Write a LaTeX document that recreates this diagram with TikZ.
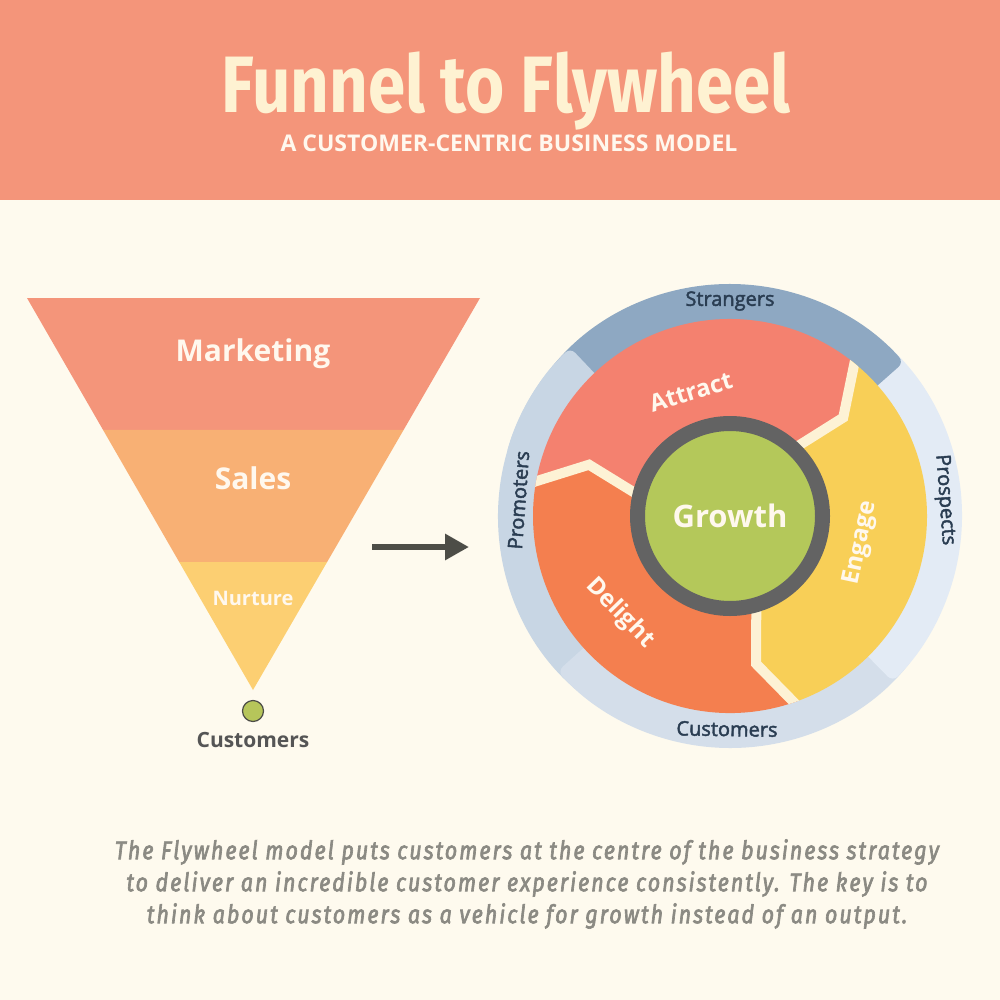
\documentclass[tikz,border=0pt]{standalone}
\usepackage{fontspec}
\setmainfont{Open Sans}
\newfontfamily\titlefont{Fira Sans}[FakeStretch=0.84]
\newfontfamily\ringfont{Open Sans}[FakeBold=2.2]
\newfontfamily\notefont{Fira Sans}[FakeStretch=0.84, LetterSpace=8, FakeBold=2.5]
\usetikzlibrary{positioning}
\usetikzlibrary{calc}
\usetikzlibrary{arrows.meta}

\definecolor{bgcream}{HTML}{FEFAEE}
\definecolor{headsalmon}{HTML}{F4957A}
\definecolor{titlecream}{HTML}{FEF2D2}
\definecolor{labelwhite}{HTML}{FFF8EE}
\definecolor{mktcol}{HTML}{F4957A}
\definecolor{salcol}{HTML}{F8B074}
\definecolor{nurcol}{HTML}{FCCF72}
\definecolor{dotgreen}{HTML}{B6C55A}
\definecolor{darkgray}{HTML}{4D4D47}
\definecolor{custgray}{HTML}{555555}
\definecolor{strblue}{HTML}{8EA8C2}
\definecolor{promblue}{HTML}{C8D6E4}
\definecolor{custblue}{HTML}{D4DEEA}
\definecolor{prosblue}{HTML}{E3EBF5}
\definecolor{ringtext}{HTML}{2A3D52}
\definecolor{attcol}{HTML}{F4816F}
\definecolor{engcol}{HTML}{F8CF57}
\definecolor{delcol}{HTML}{F47F4F}
\definecolor{sepcream}{HTML}{FDF2D5}
\definecolor{ringgray}{HTML}{636363}
\definecolor{growthgreen}{HTML}{B4C85A}
\definecolor{notegray}{HTML}{8B8A83}

\begin{document}
\begin{tikzpicture}[x=1pt, y=1pt,
    funlabel/.style = {anchor=base, text=labelwhite, font=\bfseries\fontsize{30}{34}\selectfont},
    seglabel/.style = {text=labelwhite, font=\bfseries\fontsize{24}{28}\selectfont},
    ringlabel/.style = {text=ringtext, font=\ringfont\fontsize{20}{23}\selectfont},
    sepline/.style = {draw=sepcream, line width=10pt},
    bigarrow/.style = {draw=darkgray, line width=6pt, -{Triangle[length=24pt, width=25pt]}}]

    % page and header
    \fill[bgcream] (0,0) rectangle (1000,-1000);
    \useasboundingbox (0,0) rectangle (1000,-1000);
    \fill[headsalmon] (0,0) rectangle (1000,-200);
    \node[anchor=base, text=titlecream, font=\titlefont\bfseries\fontsize{80}{86}\selectfont] (title) at (506,-113) {Funnel to Flywheel};
    \node[anchor=base, text=labelwhite, font=\bfseries\fontsize{23}{26}\selectfont] (subtitle) at (509,-152) {A CUSTOMER-CENTRIC BUSINESS MODEL};

    % funnel
    \coordinate (ftl) at (27,-298);
    \coordinate (ftr) at (480,-298);
    \coordinate (fap) at (253,-690);
    \fill[mktcol] (ftl) -- (ftr) -- ($(ftr)!0.3367!(fap)$) -- ($(ftl)!0.3367!(fap)$) -- cycle;
    \fill[salcol] ($(ftl)!0.3367!(fap)$) -- ($(ftr)!0.3367!(fap)$) -- ($(ftr)!0.6735!(fap)$) -- ($(ftl)!0.6735!(fap)$) -- cycle;
    \fill[nurcol] ($(ftl)!0.6735!(fap)$) -- ($(ftr)!0.6735!(fap)$) -- (fap) -- cycle;
    \node[funlabel] (marketing) at (253,-361) {Marketing};
    \node[funlabel] (sales) at (253,-489) {Sales};
    \node[funlabel, font=\bfseries\fontsize{20}{24}\selectfont] (nurture) at (253,-605) {Nurture};
    \node[circle, fill=dotgreen, draw=darkgray, line width=1.2pt, minimum size=21pt, inner sep=0pt] (dot) at (253,-711) {};
    \node[below=10pt of dot, inner sep=0pt, text=custgray, font=\bfseries\fontsize{21}{24}\selectfont] (customers) {Customers};

    % arrow
    \coordinate (arrowtail) at (372,-547);
    \coordinate (arrowtip) at (469,-547);
    \draw[bigarrow] (arrowtail) -- (arrowtip);

    % flywheel
    \begin{scope}[shift={(730,-516)}]
        % outer ring, four pieces
        \foreach \s/\e/\c in {-130/-226.5/promblue, -37.5/-138/custblue, 49.5/-45.5/prosblue, 141.5/41.5/strblue, 165/133.5/promblue}
            \fill[\c, rounded corners=7pt] (\s:190) -- (\s:232) arc[start angle=\s, end angle=\e, radius=232] -- (\e:190) arc[start angle=\e, end angle=\s, radius=190] -- cycle;

        % three stages
        \fill[attcol] (0,0) -- (168:100) -- (160:150) -- (171:197) arc[start angle=171, end angle=52, radius=197] -- (41:150) -- (47:100) -- cycle;
        \fill[engcol] (0,0) -- (47:100) -- (41:150) -- (52:197) arc[start angle=52, end angle=-70, radius=197] -- (-80:150) -- (-73:100) -- cycle;
        \fill[delcol] (0,0) -- (-73:100) -- (-80:150) -- (-70:197) arc[start angle=-70, end angle=-189, radius=197] -- (160:150) -- (168:100) -- cycle;
        \begin{scope}
            \clip (0,0) circle[radius=197];
            \foreach \outang/\kinkang/\innang in {171/160/168, 52/41/47, -70/-80/-73}
                \draw[sepline] (\innang:90) -- (\kinkang:150) -- (\outang:205);
        \end{scope}

        \node[circle, fill=growthgreen, draw=ringgray, line width=15pt, minimum size=185pt, inner sep=0pt,
              text=labelwhite, font=\bfseries\fontsize{31}{34}\selectfont] (growth) at (0,0) {Growth};

        \node[seglabel, rotate=17] (attract) at (107.5:130) {Attract};
        \node[seglabel, rotate=78] (engage) at (-11.6:134) {Engage};
        \node[seglabel, rotate=-46] (delight) at (-138.6:147) {Delight};

        \node[ringlabel] (strangers) at (90:215) {Strangers};
        \node[ringlabel, rotate=-85.7] (prospects) at (4.3:215) {Prospects};
        \node[ringlabel, rotate=85.7] (promoters) at (175.7:212) {Promoters};
        \node[ringlabel, rotate=-0.8] (custring) at (-90.8:213) {Customers};
    \end{scope}

    % note
    \node[text=notegray, align=center, font=\notefont\itshape\fontsize{25.5}{32}\selectfont] (note) at (527,-884)
        {The Flywheel model puts customers at the centre of the business strategy\\
         to deliver an incredible customer experience consistently. The key is to\\
         think about customers as a vehicle for growth instead of an output.};
\end{tikzpicture}
\end{document}
